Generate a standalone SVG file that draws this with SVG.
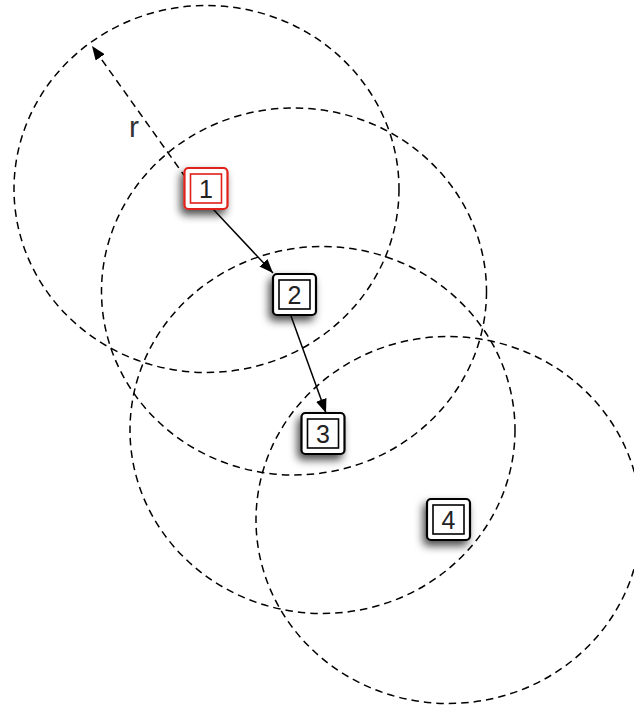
<svg xmlns="http://www.w3.org/2000/svg" width="634" height="706" viewBox="0 0 634 706">
<style>
.range{fill:none;stroke:#000;stroke-width:1.5;stroke-dasharray:7.5,5}
.outer{fill:#fff;stroke:#000;stroke-width:2.2}
.inner{fill:none;stroke:#000;stroke-width:1.6}
.red .outer,.red .inner{stroke:#e0201a}
.lbl{font-family:"Liberation Sans",Arial,sans-serif;font-size:25px;fill:#222;text-anchor:middle}
.edge{stroke:#000;stroke-width:1.5;fill:none}
</style>
<defs>
<filter id="sh" x="-60%" y="-60%" width="220%" height="220%">
<feDropShadow dx="-3" dy="5" stdDeviation="4" flood-color="#000" flood-opacity="0.7"/>
</filter>
<marker id="ah" viewBox="0 0 14 11" refX="14" refY="5.5" markerWidth="14" markerHeight="11" markerUnits="userSpaceOnUse" orient="auto">
<path d="M0,0 L14,5.5 L0,11 Z" fill="#000"/>
</marker>
</defs>
<rect width="634" height="706" fill="#fff"/>
<g id="ranges">
<ellipse class="range" cx="206.5" cy="189" rx="192.5" ry="183.5"/>
<ellipse class="range" cx="294" cy="291.5" rx="192.5" ry="183.5"/>
<ellipse class="range" cx="322.5" cy="430" rx="192.5" ry="183.5"/>
<ellipse class="range" cx="448.5" cy="520" rx="192.5" ry="183.5"/>
</g>
<g id="connectors">
<line x1="186" y1="178" x2="92" y2="46" stroke="#000" stroke-width="1.5" stroke-dasharray="7.5,5" marker-end="url(#ah)"/>
<line class="edge" x1="213" y1="209" x2="273" y2="273" marker-end="url(#ah)"/>
<line class="edge" x1="291" y1="316" x2="326" y2="413" marker-end="url(#ah)"/>
<text x="134" y="137" font-family="'Liberation Sans',Arial,sans-serif" font-size="30" fill="#333" text-anchor="middle">r</text>
</g>
<g id="node1" class="red">
<rect class="outer" x="184.5" y="168" width="43" height="41" rx="4" filter="url(#sh)"/>
<rect class="inner" x="190.5" y="174" width="31" height="29"/>
<text class="lbl" x="206" y="197.5">1</text>
</g>
<g id="node2">
<rect class="outer" x="273" y="274" width="43" height="41" rx="4" filter="url(#sh)"/>
<rect class="inner" x="279" y="280" width="31" height="29"/>
<text class="lbl" x="294.5" y="303.5">2</text>
</g>
<g id="node3">
<rect class="outer" x="301.5" y="413" width="43" height="41" rx="4" filter="url(#sh)"/>
<rect class="inner" x="307.5" y="419" width="31" height="29"/>
<text class="lbl" x="323" y="442.5">3</text>
</g>
<g id="node4">
<rect class="outer" x="427" y="499" width="43" height="41" rx="4" filter="url(#sh)"/>
<rect class="inner" x="433" y="505" width="31" height="29"/>
<text class="lbl" x="448.5" y="528.5">4</text>
</g>
</svg>
